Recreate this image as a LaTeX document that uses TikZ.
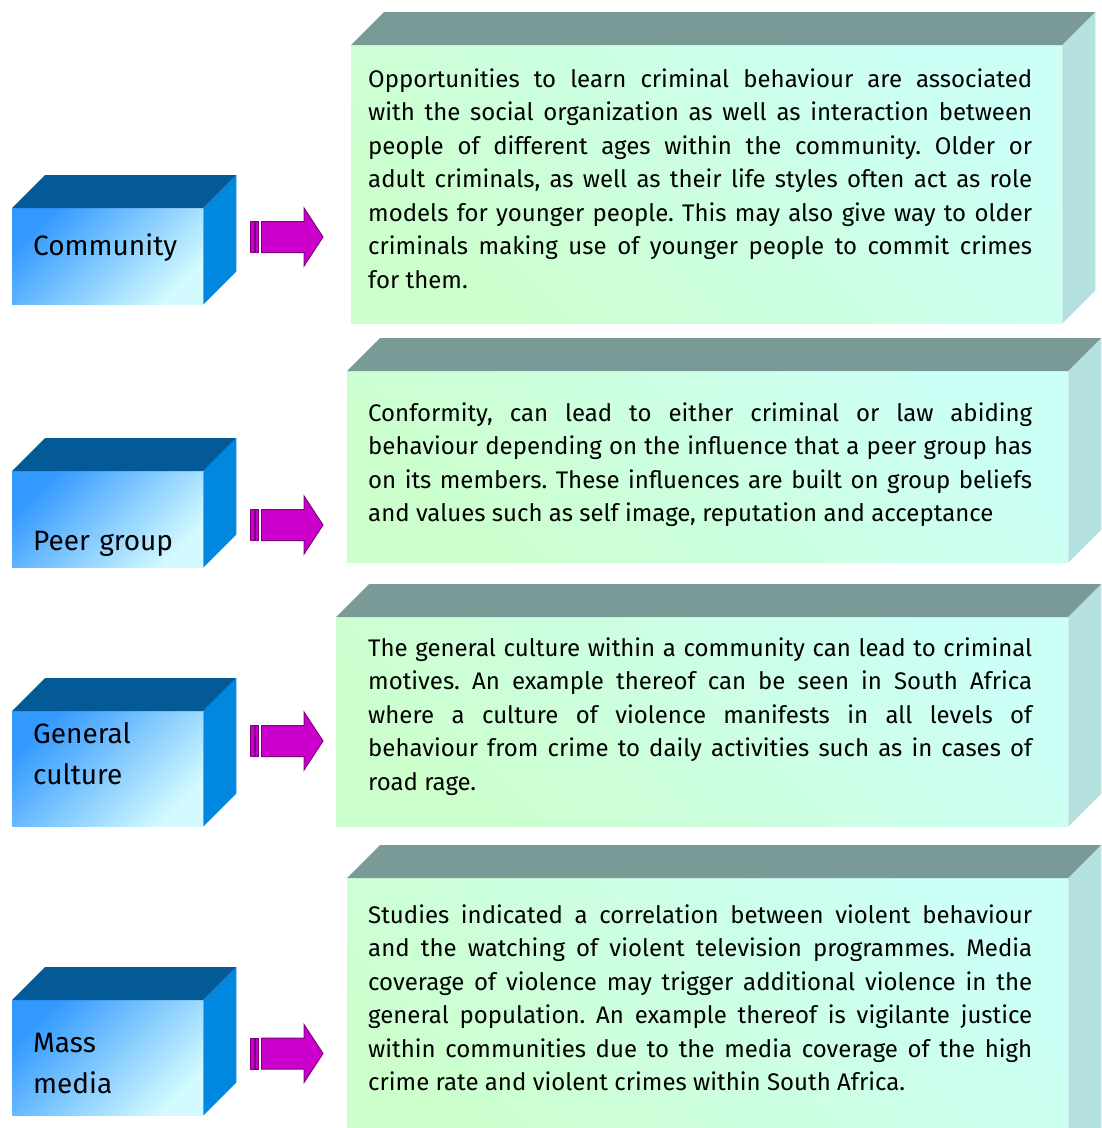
\documentclass[tikz,border=0pt]{standalone}
\usepackage{fontspec}
\setmainfont{Fira Sans}
\usetikzlibrary{calc}
\usetikzlibrary{positioning}
\hyphenpenalty=10000
\exhyphenpenalty=10000
\frenchspacing
\definecolor{cubetop}{HTML}{045A96}
\definecolor{cubeside}{HTML}{0088E0}
\definecolor{cubedark}{HTML}{3399FF}
\definecolor{cubelight}{HTML}{D2FAFF}
\definecolor{boxtop}{HTML}{7A9A98}
\definecolor{boxside}{HTML}{B4E0E0}
\definecolor{boxcyan}{HTML}{CCFFF6}
\definecolor{boxgreen}{HTML}{CCFFCC}
\definecolor{arrowfill}{HTML}{CC00CC}
\definecolor{arrowline}{HTML}{800080}
\def\depth{33}
\tikzset{
cubefront/.style 2 args={
	inner sep=0pt, anchor=north west,
	minimum width=#1, minimum height=#2,
	top color=cubedark, bottom color=cubelight, shading angle=45
},
boxfront/.style 2 args={
	inner sep=0pt, anchor=north west,
	minimum width=#1, minimum height=#2,
	top color=boxcyan, bottom color=boxgreen, shading angle=-45
},
cubelabel/.style={anchor=base west, inner sep=0pt, text width=170pt, align=left,
	font=\fontsize{28}{41}\selectfont},
boxtext/.style={anchor=base west, inner sep=0pt, text width=664pt, align=justify,
	font=\fontsize{24}{33.5}\selectfont},
bararrow/.style={fill=arrowfill, draw=arrowline, line width=1pt},
}

\begin{document}
\begin{tikzpicture}[x=1pt, y=-1pt]
	\clip (0,0) rectangle (1102,1128);
	\fill[white] (0,0) rectangle (1102,1128);
	
	% blue cubes
	\node[cubefront={191pt}{96pt}] (cube1) at (12,208) {};
	\node[cubefront={191pt}{96pt}] (cube2) at (12,471) {};
	\node[cubefront={191pt}{115pt}] (cube3) at (12,711) {};
	\node[cubefront={191pt}{115pt}] (cube4) at (12,1000) {};
	
	% text boxes
	\node[boxfront={711pt}{278pt}] (box1) at (351,45) {};
	\node[boxfront={721pt}{191pt}] (box2) at (347,371) {};
	\node[boxfront={732pt}{209pt}] (box3) at (336,617) {};
	\node[boxfront={721pt}{290pt}] (box4) at (347,878) {};
	
	\foreach \n in {cube1,cube2,cube3,cube4}{
		\fill[cubetop] (\n.north west) -- ++(\depth,-\depth) -- ($(\n.north east)+(\depth,-\depth)$) -- (\n.north east) -- cycle;
		\fill[cubeside] (\n.north east) -- ++(\depth,-\depth) -- ($(\n.south east)+(\depth,-\depth)$) -- (\n.south east) -- cycle;
	}
	\foreach \n in {box1,box2,box3,box4}{
		\fill[boxtop] (\n.north west) -- ++(\depth,-\depth) -- ($(\n.north east)+(\depth,-\depth)$) -- (\n.north east) -- cycle;
		\fill[boxside] (\n.north east) -- ++(\depth,-\depth) -- ($(\n.south east)+(\depth,-\depth)$) -- (\n.south east) -- cycle;
	}
	
	% arrows
	\foreach \y [count=\i] in {237,525,741,1053.5}{
		\coordinate (a\i) at (250.5,\y);
		\draw[bararrow] ($(a\i)+(0,-15.5)$) rectangle ++(3.5,31);
		\draw[bararrow] ($(a\i)+(4.5,-15.5)$) rectangle ++(3.5,31);
		\draw[bararrow] ($(a\i)+(11,-15.5)$) -- ++(42.5,0) -- ++(0,-13.5) -- ++(19,29) -- ++(-19,29) -- ++(0,-13.5) -- ++(-42.5,0) -- cycle;
	}
	
	% labels
	\node[cubelabel] (l1) at (33,255) {Community};
	\node[cubelabel] (l2) at (33,550) {Peer group};
	\node[cubelabel] (l3) at (33,743) {General\\culture};
	\node[cubelabel] (l4) at (33,1052) {Mass\\media};
	
	\node[boxtext] (t1) at (368,87) {Opportunities to learn criminal behaviour are associated\linebreak
		with the social organization as well as interaction between\linebreak
		people of different ages within the community. Older or\linebreak
		adult criminals, as well as their life styles often act as role\linebreak
		models for younger people. This may also give way to older\linebreak
		criminals making use of younger people to commit crimes\linebreak
		for them.};
	\node[boxtext] (t2) at (368,421) {Conformity, can lead to either criminal or law abiding\linebreak
		behaviour depending on the influence that a peer group has\linebreak
		on its members. These influences are built on group beliefs\linebreak
		and values such as self image, reputation and acceptance};
	\node[boxtext] (t3) at (368,656) {The general culture within a community can lead to criminal\linebreak
		motives. An example thereof can be seen in South Africa\linebreak
		where a culture of violence manifests in all levels of\linebreak
		behaviour from crime to daily activities such as in cases of\linebreak
		road rage.};
	\node[boxtext] (t4) at (368,923) {Studies indicated a correlation between violent behaviour\linebreak
		and the watching of violent television programmes. Media\linebreak
		coverage of violence may trigger additional violence in the\linebreak
		general population. An example thereof is vigilante justice\linebreak
		within communities due to the media coverage of the high\linebreak
		crime rate and violent crimes within South Africa.};
\end{tikzpicture}
\end{document}
